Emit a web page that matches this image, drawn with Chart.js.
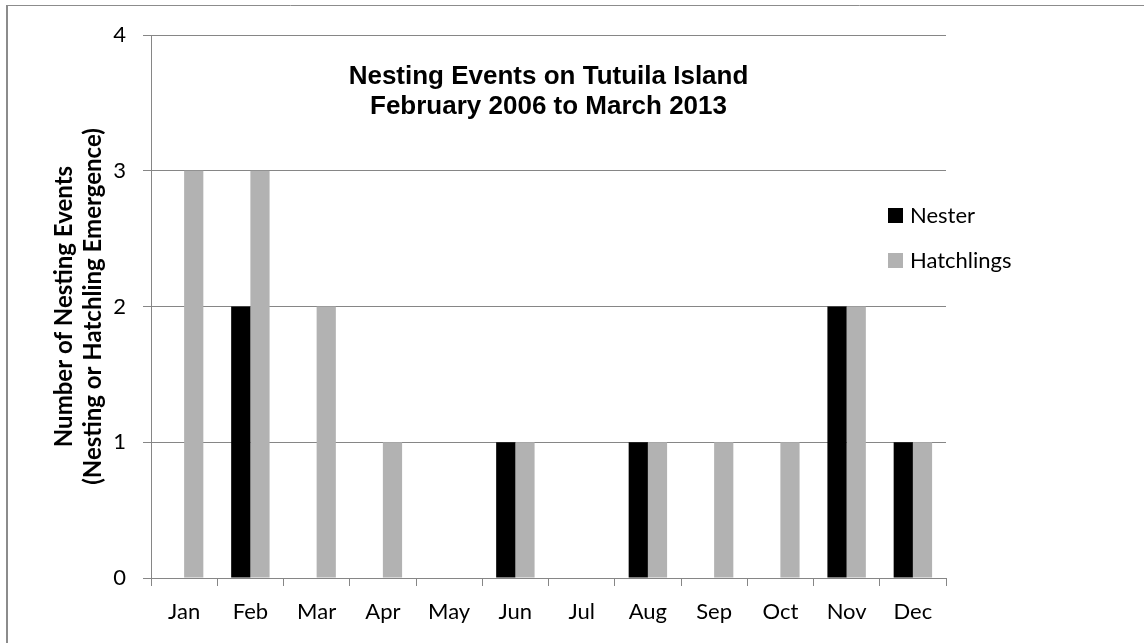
<!DOCTYPE html>
<html>
<head>
<meta charset="utf-8">
<title>Nesting Events on Tutuila Island</title>
<script src="https://cdn.jsdelivr.net/npm/chart.js@4"></script>
<style>
    body { margin: 0; background: #fff; }
    #wrap { width: 1144px; height: 643px; }
</style>
</head>
<body>
<div id="wrap"><canvas id="myChart" width="1144" height="643"></canvas></div>
<script>
    // Tháng và số lượng sự kiện
    var months = ['Jan', 'Feb', 'Mar', 'Apr', 'May', 'Jun', 'Jul', 'Aug', 'Sep', 'Oct', 'Nov', 'Dec'];
    var nester = [0, 2, 0, 0, 0, 1, 0, 1, 0, 0, 2, 1];
    var hatchlings = [3, 3, 2, 1, 0, 1, 0, 1, 1, 1, 2, 1];
    var yTicks = [0, 1, 2, 3, 4];
    var titleLines = ['Nesting Events on Tutuila Island', 'February 2006 to March 2013'];
    var yTitle = ['Number of Nesting Events', '(Nesting or Hatchling Emergence)'];

    var gridColor = '#868686';
    var labelFont = 'Lato, "Open Sans", sans-serif';

    // Khung viền xám ở góc trên bên trái
    const borderPlugin = {
        id: 'outerBorder',
        beforeDraw(chart) {
            const c = chart.ctx;
            c.save();
            c.fillStyle = '#fff';
            c.fillRect(0, 0, chart.width, chart.height);
            c.strokeStyle = '#8c8c8c';
            c.lineWidth = 2;
            c.beginPath();
            c.moveTo(7, chart.height);
            c.lineTo(7, 5.5);
            c.stroke();
            c.lineWidth = 1;
            c.beginPath();
            c.moveTo(6, 5.5);
            c.lineTo(chart.width, 5.5);
            c.stroke();
            c.restore();
        }
    };

    // Tiêu đề nằm trong vùng biểu đồ
    const innerTitle = {
        id: 'innerTitle',
        afterDraw(chart) {
            const c = chart.ctx;
            const area = chart.chartArea;
            const cx = (area.left + area.right) / 2;
            c.save();
            c.font = 'bold 26px "Liberation Sans", Arial, sans-serif';
            c.fillStyle = '#000';
            c.textAlign = 'center';
            c.textBaseline = 'middle';
            titleLines.forEach((line, i) => {
                c.fillText(line, cx, area.top + 42 + i * 30);
            });
            c.restore();
        }
    };

    // Chú thích vẽ tay bên phải
    const sideLegend = {
        id: 'sideLegend',
        afterDraw(chart) {
            const c = chart.ctx;
            const area = chart.chartArea;
            c.save();
            c.font = '22px ' + labelFont;
            c.textBaseline = 'middle';
            chart.data.datasets.forEach((ds, i) => {
                const y = area.top + 180 + i * 45;
                c.fillStyle = ds.backgroundColor;
                c.fillRect(area.right - 58, y - 7, 15, 15);
                c.fillStyle = '#000';
                c.fillText(ds.label, area.right - 36, y + 1);
            });
            c.restore();
        }
    };

    const ctx = document.getElementById('myChart');
    new Chart(ctx, {
        type: 'bar',
        data: {
            labels: months,
            datasets: [{
                label: 'Nester',
                data: nester,
                backgroundColor: '#000000',
                categoryPercentage: 0.58,
                barPercentage: 1.0
            }, {
                label: 'Hatchlings',
                data: hatchlings,
                backgroundColor: '#b2b2b2',
                categoryPercentage: 0.58,
                barPercentage: 1.0
            }]
        },
        options: {
            responsive: false,
            animation: false,
            layout: { padding: { left: 0, top: 35, right: 198, bottom: 0 } },
            plugins: {
                legend: { display: false },
                title: { display: false },
                tooltip: { enabled: false }
            },
            scales: {
                x: {
                    afterFit(scale) { scale.height = 65; },
                    grid: {
                        display: true,
                        drawOnChartArea: false,
                        drawTicks: true,
                        tickLength: 8,
                        color: gridColor,
                        offset: true
                    },
                    border: { display: true, color: gridColor, width: 1 },
                    ticks: {
                        color: '#000',
                        padding: 13,
                        font: { family: labelFont, size: 22 }
                    }
                },
                y: {
                    min: 0,
                    max: 4,
                    afterFit(scale) { scale.width = 151; },
                    afterBuildTicks(scale) {
                        scale.ticks = yTicks.map(v => ({ value: v }));
                    },
                    grid: {
                        color: gridColor,
                        drawTicks: true,
                        tickLength: 8
                    },
                    border: { display: true, color: gridColor, width: 1 },
                    ticks: {
                        color: '#000',
                        padding: 17,
                        font: { family: labelFont, size: 22 }
                    },
                    title: {
                        display: true,
                        text: yTitle,
                        color: '#000',
                        padding: { top: 50, bottom: 0 },
                        font: { family: labelFont, size: 24, weight: 'bold', lineHeight: 29 / 24 }
                    }
                }
            }
        },
        plugins: [borderPlugin, innerTitle, sideLegend]
    });
</script>
</body>
</html>
